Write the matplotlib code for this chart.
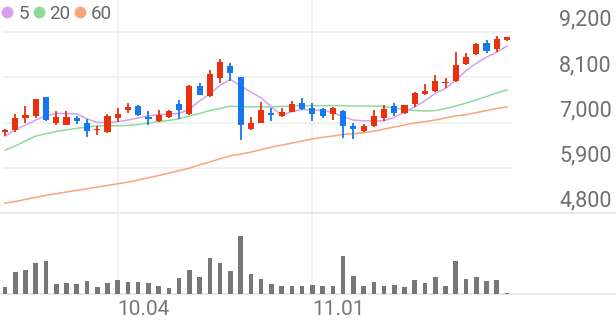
import matplotlib.pyplot as plt
from matplotlib.lines import Line2D
import numpy as np

plt.rcParams['font.family'] = ['Roboto', 'DejaVu Sans']

# daily candles, oldest first (KRW)
opens = [6760, 6810, 7110, 7160, 7610, 7000, 6940, 7110, 7000, 6810,
         6780, 7100, 7300, 7400, 7130, 7040, 7130, 7450, 7210, 7890,
         7640, 8070, 8380, 8100, 6850, 7000, 7220, 7160, 7260, 7470,
         7350, 7320, 7200, 7290, 6920, 6800, 6920, 7120, 7400, 7220,
         7440, 7690, 7770, 7950, 8020, 8410, 8660, 8930, 8790, 9010]
highs = [6840, 7210, 7390, 7560, 7630, 7280, 7280, 7160, 7080, 6910,
         7200, 7360, 7470, 7430, 7290, 7300, 7300, 7550, 7910, 7950,
         8280, 8540, 8440, 8110, 7140, 7510, 7350, 7360, 7530, 7590,
         7470, 7350, 7380, 7300, 6980, 6960, 7300, 7430, 7480, 7430,
         7730, 7930, 8150, 8090, 8720, 8680, 8930, 9010, 9110, 9090]
lows = [6670, 6780, 6980, 7100, 7040, 6940, 6930, 6960, 6650, 6700,
        6750, 7020, 7220, 7170, 6940, 7020, 7110, 7080, 7180, 7660,
        7630, 7950, 8020, 6570, 6820, 6990, 7040, 7130, 7250, 7300,
        7040, 7100, 7060, 6620, 6590, 6760, 6900, 7040, 7170, 7200,
        7380, 7680, 7750, 7830, 7990, 8400, 8640, 8680, 8720, 8990]
closes = [6810, 7120, 7190, 7560, 7060, 7140, 7140, 7030, 6790, 6840,
          7160, 7200, 7370, 7180, 7090, 7180, 7290, 7300, 7890, 7670,
          8170, 8460, 8200, 6940, 6990, 7300, 7180, 7260, 7450, 7330,
          7210, 7160, 7350, 6920, 6840, 6920, 7170, 7330, 7220, 7420,
          7720, 7770, 8010, 7990, 8400, 8600, 8900, 8740, 9030, 9070]
volume = [73, 217, 240, 307, 333, 97, 113, 97, 130, 67,
          113, 140, 123, 120, 107, 80, 57, 157, 240, 167,
          357, 307, 233, 583, 200, 147, 100, 80, 80, 77,
          87, 77, 83, 383, 183, 83, 120, 80, 93, 73,
          140, 107, 173, 77, 327, 150, 167, 133, 143, 13]

# moving averages as drawn (5 / 20 / 60 days)
ma5 = [6670, 6820, 6940, 7060, 7160, 7220, 7220, 7210, 7090, 7000,
       7000, 7020, 7060, 7110, 7160, 7190, 7210, 7220, 7320, 7530,
       7690, 7910, 8050, 7890, 7740, 7600, 7380, 7180, 7260, 7320,
       7300, 7300, 7240, 7140, 7060, 7040, 7040, 7040, 7130, 7250,
       7380, 7530, 7710, 7830, 8030, 8260, 8440, 8590, 8710, 8860]
ma20 = [6330, 6430, 6550, 6670, 6730, 6780, 6820, 6860, 6890, 6920,
        6920, 6920, 6930, 6950, 6990, 7020, 7050, 7090, 7160, 7220,
        7290, 7340, 7400, 7380, 7380, 7380, 7380, 7390, 7400, 7410,
        7410, 7410, 7410, 7410, 7400, 7400, 7400, 7390, 7350, 7320,
        7290, 7280, 7290, 7340, 7400, 7470, 7550, 7630, 7720, 7790]
ma60 = [5040, 5080, 5130, 5180, 5230, 5270, 5310, 5350, 5390, 5430,
        5470, 5510, 5550, 5600, 5660, 5710, 5770, 5830, 5890, 5970,
        6040, 6120, 6190, 6230, 6280, 6340, 6400, 6450, 6500, 6550,
        6600, 6640, 6670, 6710, 6730, 6750, 6790, 6840, 6890, 6940,
        6990, 7020, 7060, 7110, 7160, 7190, 7240, 7290, 7340, 7380]

price_ticks = [4800, 5900, 7000, 8100, 9200]
date_pos = [11, 30]
date_labels = ["10.04", "11.01"]

ma_names = ["5", "20", "60"]
ma_colors = ["#d8a0ef", "#8edb9e", "#f8a47c"]
UP, DOWN = "#e8310f", "#1677f0"
GRID = "#efefef"

W, H = 616, 321
fig = plt.figure(figsize=(W / 100, H / 100), dpi=100)
price_bot, vol_bot = 213, 294
ax = fig.add_axes([0, (H - price_bot) / H, 1, price_bot / H])
axv = fig.add_axes([0, (H - vol_bot) / H, 1, (vol_bot - price_bot) / H])

step = 10.245
xlim = (-5 / step, (W - 5) / step)
x = np.arange(len(closes))

# --- price panel ---
o, c = np.array(opens), np.array(closes)
cols = [UP if cc >= oo else DOWN for oo, cc in zip(o, c)]
body_lo = np.minimum(o, c)
body_h = np.maximum(np.abs(c - o), 25)
ax.vlines(x, lows, highs, colors=cols, lw=1.3, zorder=3)
ax.bar(x, body_h, bottom=body_lo, width=0.6, color=cols, zorder=4)
for vals, col in zip([ma60, ma20, ma5], ma_colors[::-1]):
    ax.plot(x, vals, color=col, lw=1.1, zorder=2)

grid_end = (512 - 5) / step
ax.hlines(price_ticks[1:], -0.2, grid_end, colors=GRID, lw=1.2, zorder=0)
for p in date_pos:
    ax.axvline(p, color=GRID, lw=1.2, zorder=0)
ax.set_xlim(*xlim)
ax.set_ylim(4800, 4800 + price_bot * 4400 / 181)
for t in price_ticks:
    ax.annotate(f"{t:,}", xy=(1 - 4 / W, t), xycoords=ax.get_yaxis_transform(),
                xytext=(0, 4.5), textcoords="offset points",
                ha="right", va="baseline", fontsize=15.5, color="#6e6e6e")

# --- volume panel ---
axv.bar(x, volume, width=0.45, color="#777777", zorder=3)
for p in date_pos:
    axv.axvline(p, color=GRID, lw=1.2, zorder=0)
axv.set_xlim(*xlim)
axv.set_ylim(0, 810)
for p, lab in zip(date_pos, date_labels):
    axv.annotate(lab, xy=(p, 0), xytext=(0, -15), textcoords="offset points",
                 ha="left", va="baseline", fontsize=15, color="#777777")

for a in (ax, axv):
    a.set_xticks([])
    a.set_yticks([])
    a.patch.set_alpha(0)
    for s in ("top", "left", "right"):
        a.spines[s].set_visible(False)
    a.spines["bottom"].set_color("#e4e4e4")
    a.spines["bottom"].set_linewidth(1.2)

handles = [Line2D([], [], marker="o", ls="", color=col, markersize=7.5)
           for col in ma_colors]
fig.legend(handles, ma_names, loc="upper left", bbox_to_anchor=(-0.004, 1.0),
           ncol=3, frameon=False, fontsize=13.5, labelcolor="#666666",
           handlelength=0.55, handletextpad=0.3, columnspacing=0.25,
           borderaxespad=0.1, borderpad=0.15)

fig.savefig("out.png", dpi=100)
